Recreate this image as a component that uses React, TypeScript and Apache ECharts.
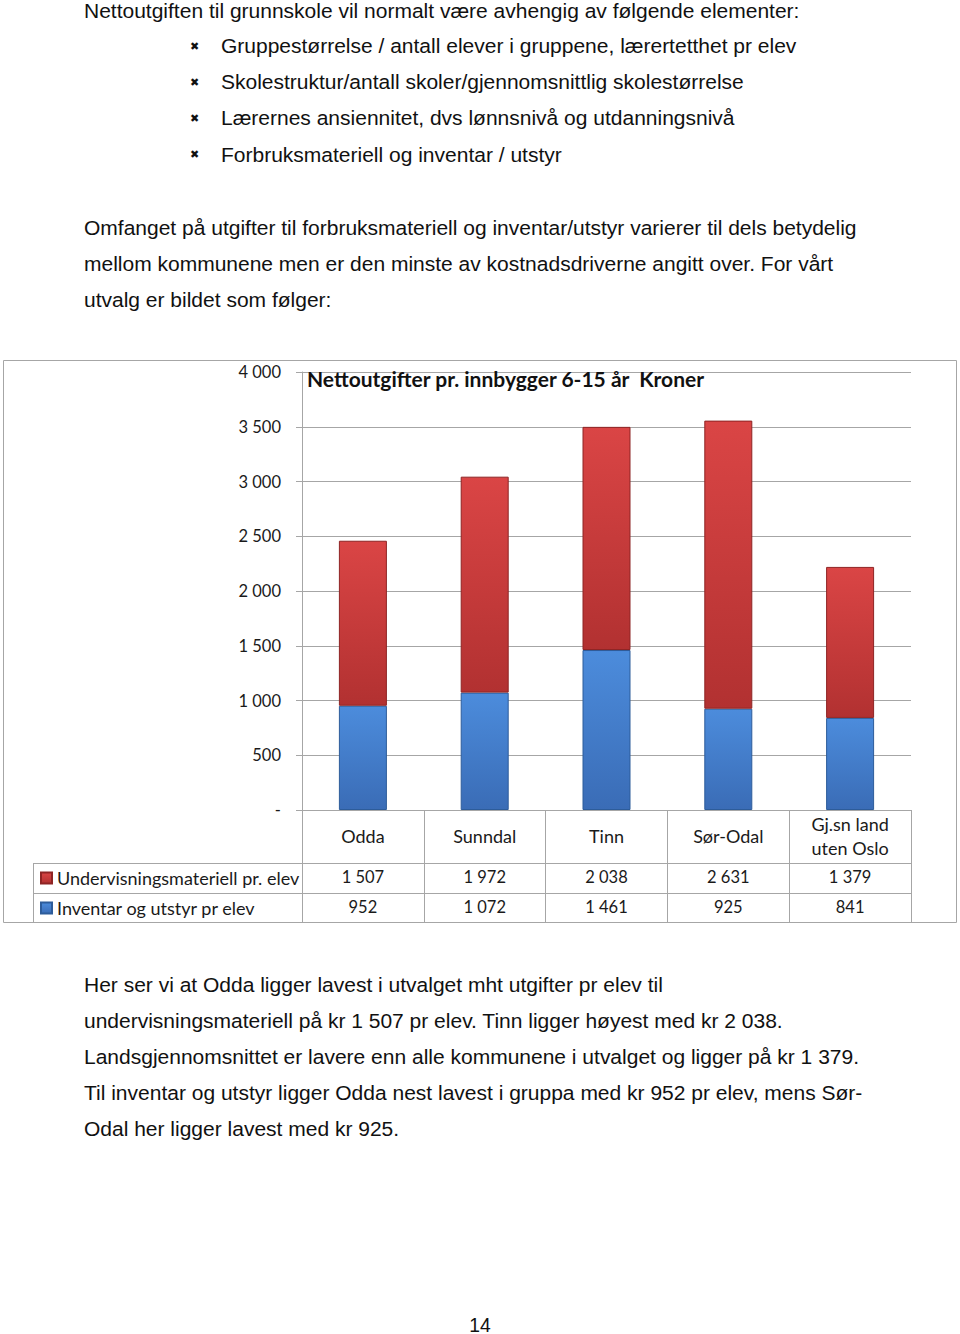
import React, { useEffect, useRef } from "react";
import * as echarts from "echarts";

const categories = ["Odda", "Sunndal", "Tinn", "Sør-Odal", "Gj.sn land\nuten Oslo"];
const undervisning = [1507, 1972, 2038, 2631, 1379];
const inventar = [952, 1072, 1461, 925, 841];
const seriesNames = ["Undervisningsmateriell pr. elev", "Inventar og utstyr pr elev"];
const yMin = 0;
const yMax = 4000;
const yInterval = 500;
const chartTitle = "Nettoutgifter pr. innbygger 6-15 år  Kroner";

const introLine = "Nettoutgiften til grunnskole vil normalt være avhengig av følgende elementer:";
const bulletLines = [
  "Gruppestørrelse / antall elever i gruppene, lærertetthet pr elev",
  "Skolestruktur/antall skoler/gjennomsnittlig skolestørrelse",
  "Lærernes ansiennitet, dvs lønnsnivå og utdanningsnivå",
  "Forbruksmateriell og inventar / utstyr",
];
const para2Lines = [
  "Omfanget på utgifter til forbruksmateriell og inventar/utstyr varierer til dels betydelig",
  "mellom kommunene men er den minste av kostnadsdriverne angitt over. For vårt",
  "utvalg er bildet som følger:",
];
const para3Lines = [
  "Her ser vi at Odda ligger lavest i utvalget mht utgifter pr elev til",
  "undervisningsmateriell på kr 1 507 pr elev. Tinn ligger høyest med kr 2 038.",
  "Landsgjennomsnittet er lavere enn alle kommunene i utvalget og ligger på kr 1 379.",
  "Til inventar og utstyr ligger Odda nest lavest i gruppa med kr 952 pr elev, mens Sør-",
  "Odal her ligger lavest med kr 925.",
];
const pageNumber = "14";

const fmt = (n: number) =>
  n >= 1000 ? `${Math.floor(n / 1000)} ${String(n % 1000).padStart(3, "0")}` : String(n);

const CHART_FONT = "Lato";
const TEXT_FONT = "Liberation Sans";
const GRAY = "#a6a6a6";
const TEXT_SCALE = 1.089;

function textEl(text: string, x: number, y: number, size: number, extra: any = {}, scaleX = TEXT_SCALE) {
  return {
    type: "text",
    x,
    y,
    scaleX,
    style: {
      text,
      fontSize: size,
      fontFamily: TEXT_FONT,
      fill: "#111",
      textAlign: "left",
      textVerticalAlign: "middle",
      verticalAlign: "middle",
      ...extra,
    },
  };
}

export default function App() {
  const ref = useRef<HTMLDivElement>(null);
  useEffect(() => {
    if (!ref.current) return;
    const chart = echarts.init(ref.current, undefined, { renderer: "svg" });

    const graphics: any[] = [];
    graphics.push(textEl(introLine, 84, 11, 19.3));
    bulletLines.forEach((l, i) => {
      graphics.push(textEl("✖", 190, 46 + i * 36.3, 11, { fontFamily: "DejaVu Sans" }, 1));
      graphics.push(textEl(l, 221, 46 + i * 36.3, 19.3));
    });
    para2Lines.forEach((l, i) => graphics.push(textEl(l, 84, 228 + i * 36, 19.3)));
    para3Lines.forEach((l, i) => graphics.push(textEl(l, 84, 985 + i * 36, 19.3)));
    graphics.push(textEl(pageNumber, 480, 1325, 19.3, { textAlign: "center" }, 1));

    // chart frame
    graphics.push({
      type: "rect",
      shape: { x: 3.5, y: 360.5, width: 953, height: 562 },
      style: { fill: "none", stroke: GRAY, lineWidth: 1 },
    });
    // data table lines
    [863.5, 893.5, 922.5].forEach((y) =>
      graphics.push({
        type: "line",
        shape: { x1: 33, y1: y, x2: 911, y2: y },
        style: { stroke: GRAY, lineWidth: 1 },
      })
    );
    graphics.push({
      type: "line",
      shape: { x1: 33.5, y1: 863, x2: 33.5, y2: 923 },
      style: { stroke: GRAY, lineWidth: 1 },
    });

    const redGrad = new echarts.graphic.LinearGradient(0, 0, 0, 1, [
      { offset: 0, color: "#da4545" },
      { offset: 1, color: "#b23131" },
    ]);
    const blueGrad = new echarts.graphic.LinearGradient(0, 0, 0, 1, [
      { offset: 0, color: "#4c8cdc" },
      { offset: 1, color: "#3a6cb6" },
    ]);

    const wordLabel = { fontFamily: CHART_FONT, fontSize: 18, color: "#1a1a1a" };
    const numLabel = { fontFamily: CHART_FONT, fontSize: 16.5, color: "#1a1a1a" };

    chart.setOption({
      animation: false,
      backgroundColor: "#fff",
      title: {
        text: chartTitle,
        left: 307,
        top: 368,
        padding: 0,
        textStyle: { fontFamily: CHART_FONT, fontWeight: "bold", fontSize: 21, color: "#111" },
      },
      legend: {
        orient: "vertical",
        left: 40,
        top: 869,
        padding: 0,
        itemWidth: 11,
        itemHeight: 11,
        itemGap: 12,
        icon: "rect",
        data: seriesNames,
        textStyle: { ...wordLabel, lineHeight: 18, padding: [0, 0, 0, 0] },
      },
      grid: { left: 302, right: 49, top: 372, bottom: 524, containLabel: false },
      xAxis: [
        {
          type: "category",
          data: categories,
          position: "bottom",
          axisLine: { show: true, lineStyle: { color: GRAY, width: 1 } },
          axisTick: { show: true, length: 112, interval: 0, lineStyle: { color: GRAY } },
          axisLabel: { ...wordLabel, interval: 0, margin: 26, verticalAlign: "middle", lineHeight: 24 },
        },
        {
          type: "category",
          data: undervisning.map(fmt),
          position: "bottom",
          offset: 67,
          axisLine: { show: false },
          axisTick: { show: false },
          axisLabel: { ...numLabel, interval: 0, margin: 0, verticalAlign: "middle" },
        },
        {
          type: "category",
          data: inventar.map(fmt),
          position: "bottom",
          offset: 97,
          axisLine: { show: false },
          axisTick: { show: false },
          axisLabel: { ...numLabel, interval: 0, margin: 0, verticalAlign: "middle" },
        },
      ],
      yAxis: {
        type: "value",
        min: yMin,
        max: yMax,
        interval: yInterval,
        axisLine: { show: true, lineStyle: { color: GRAY } },
        axisTick: { show: true, length: 6, lineStyle: { color: GRAY } },
        splitLine: { show: true, lineStyle: { color: GRAY, width: 1 } },
        axisLabel: {
          ...numLabel,
          margin: 21,
          formatter: (v: number) => (v === 0 ? "-" : fmt(v)),
        },
      },
      series: [
        {
          name: seriesNames[1],
          type: "bar",
          stack: "total",
          xAxisIndex: 0,
          barWidth: 48,
          data: inventar,
          itemStyle: { color: blueGrad, borderColor: "#2d5c9a", borderWidth: 1 },
        },
        {
          name: seriesNames[0],
          type: "bar",
          stack: "total",
          xAxisIndex: 0,
          barWidth: 48,
          data: undervisning,
          itemStyle: { color: redGrad, borderColor: "#8e2424", borderWidth: 1 },
        },
      ],
      graphic: graphics,
    });
    return () => chart.dispose();
  }, []);
  return (
    <div
      ref={ref}
      style={{ position: "absolute", left: 0, top: 0, width: 960, height: 1334 }}
    />
  );
}
